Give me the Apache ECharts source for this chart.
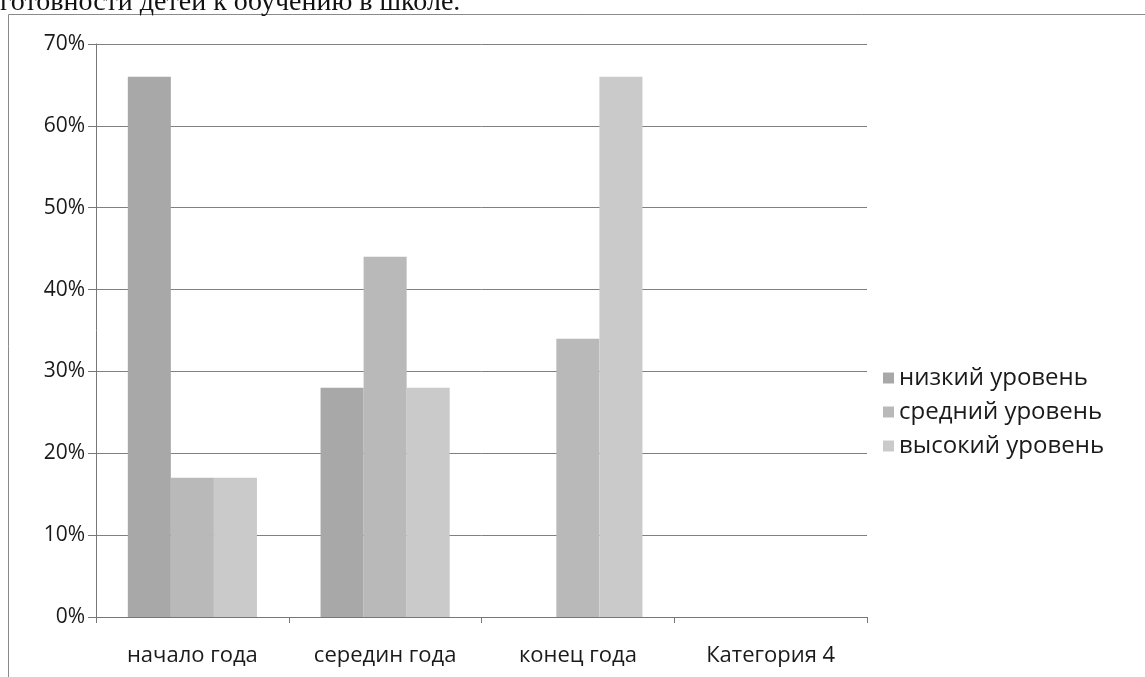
<!DOCTYPE html>
<html>
<head>
<meta charset="utf-8">
<script src="https://cdn.jsdelivr.net/npm/echarts@6/dist/echarts.min.js"></script>
<style>
html,body{margin:0;padding:0;background:#fff;}
#chart{width:1145px;height:677px;}
</style>
</head>
<body>
<div id="chart"></div>
<script>
const categories = ['начало года', 'середин года', 'конец года', 'Категория 4'];
const seriesNames = ['низкий уровень', 'средний уровень', 'высокий уровень'];
const lowValues = [66, 28, 0, null];
const midValues = [17, 44, 34, null];
const highValues = [17, 28, 66, null];
const yTicks = [0, 10, 20, 30, 40, 50, 60, 70];
const headerText = 'готовности детей к обучению в школе.';

const colors = ['#a8a8a8', '#b9b9b9', '#cacaca'];
const font = 'Open Sans';

const chart = echarts.init(document.getElementById('chart'));
chart.setOption({
  animation: false,
  backgroundColor: '#fff',
  graphic: [
    {
      type: 'text', left: 0, top: -11, z: 10,
      style: { text: headerText, font: '28px "Liberation Serif"', fill: '#111' }
    },
    {
      type: 'rect', shape: { x: 8.5, y: 14.5, width: 1200, height: 800 },
      style: { fill: 'none', stroke: '#8a8a8a', lineWidth: 1 }, silent: true
    }
  ],
  grid: { left: 96, right: 278, top: 44, bottom: 60, containLabel: false },
  legend: {
    orient: 'vertical',
    left: 878,
    top: 361,
    itemWidth: 11,
    itemHeight: 11,
    itemGap: 10,
    icon: 'rect',
    textStyle: { fontFamily: font, fontSize: 24, lineHeight: 24, color: '#1a1a1a' },
    data: seriesNames
  },
  xAxis: {
    type: 'category',
    data: categories,
    axisLine: { lineStyle: { color: '#777', width: 1 } },
    axisTick: { show: true, length: 6, lineStyle: { color: '#777' } },
    axisLabel: { fontFamily: font, fontSize: 22, color: '#1a1a1a', margin: 28 }
  },
  yAxis: {
    type: 'value',
    min: yTicks[0],
    max: yTicks[yTicks.length - 1],
    interval: 10,
    axisLine: { show: true, lineStyle: { color: '#777', width: 1 } },
    axisTick: { show: true, length: 8, lineStyle: { color: '#777' } },
    axisLabel: { fontFamily: font, fontSize: 21, color: '#1a1a1a', margin: 11, formatter: v => v + '%' },
    splitLine: { show: true, lineStyle: { color: '#808080', width: 1 } }
  },
  series: [
    { name: seriesNames[0], type: 'bar', data: lowValues, itemStyle: { color: colors[0] }, barGap: '0%', barCategoryGap: '33%' },
    { name: seriesNames[1], type: 'bar', data: midValues, itemStyle: { color: colors[1] }, barGap: '0%', barCategoryGap: '33%' },
    { name: seriesNames[2], type: 'bar', data: highValues, itemStyle: { color: colors[2] }, barGap: '0%', barCategoryGap: '33%' }
  ]
});
</script>
</body>
</html>
